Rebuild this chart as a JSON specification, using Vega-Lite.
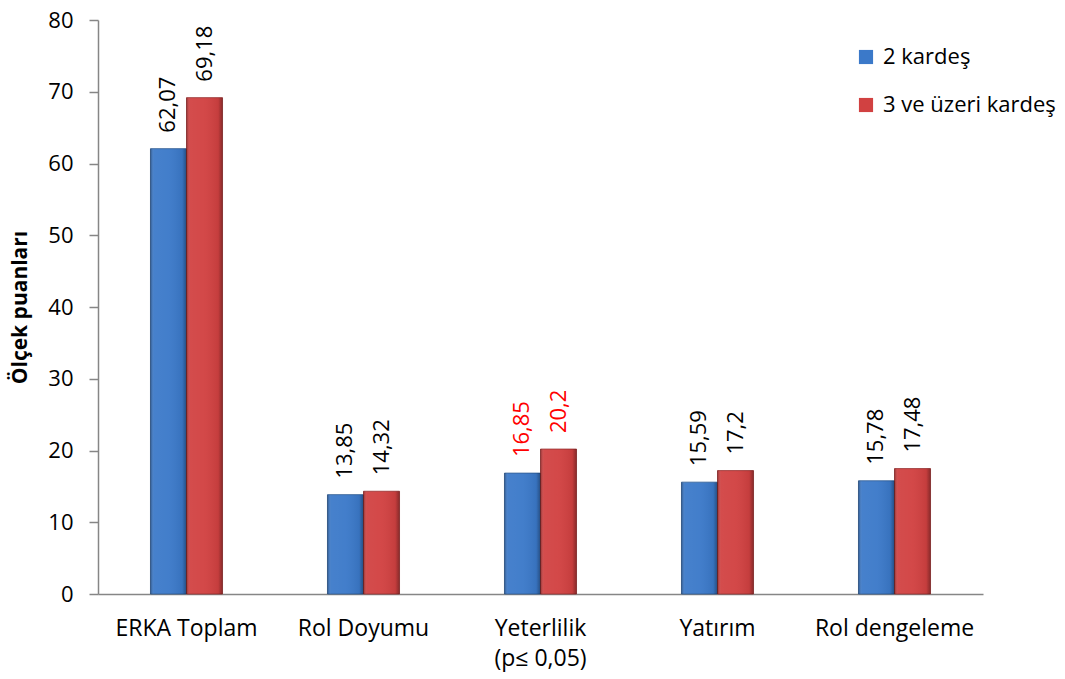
{
  "$schema": "https://vega.github.io/schema/vega-lite/v6.json",
  "width": 885,
  "height": 574,
  "autosize": {"type": "none"},
  "padding": {"left": 98, "top": 20, "right": 82, "bottom": 85},
  "config": {
    "view": {"stroke": null},
    "font": "Open Sans",
    "locale": {"number": {"decimal": ",", "thousands": ".", "grouping": [3], "currency": ["", " TL"]}}
  },
  "data": {
    "values": [
      {"olcek": "ERKA Toplam", "grup": "2 kardeş", "puan": 62.07},
      {"olcek": "ERKA Toplam", "grup": "3 ve üzeri kardeş", "puan": 69.18},
      {"olcek": "Rol Doyumu", "grup": "2 kardeş", "puan": 13.85},
      {"olcek": "Rol Doyumu", "grup": "3 ve üzeri kardeş", "puan": 14.32},
      {"olcek": "Yeterlilik (p≤ 0,05)", "grup": "2 kardeş", "puan": 16.85},
      {"olcek": "Yeterlilik (p≤ 0,05)", "grup": "3 ve üzeri kardeş", "puan": 20.2},
      {"olcek": "Yatırım", "grup": "2 kardeş", "puan": 15.59},
      {"olcek": "Yatırım", "grup": "3 ve üzeri kardeş", "puan": 17.2},
      {"olcek": "Rol dengeleme", "grup": "2 kardeş", "puan": 15.78},
      {"olcek": "Rol dengeleme", "grup": "3 ve üzeri kardeş", "puan": 17.48}
    ]
  },
  "encoding": {
    "x": {
      "field": "olcek",
      "type": "nominal",
      "sort": ["ERKA Toplam", "Rol Doyumu", "Yeterlilik (p≤ 0,05)", "Yatırım", "Rol dengeleme"],
      "scale": {"paddingInner": 0.593, "paddingOuter": 0.2965},
      "axis": {
        "title": null,
        "labelAngle": 0,
        "labelFontSize": 23,
        "labelColor": "#000000",
        "labelPadding": 23,
        "labelLineHeight": 30,
        "labelBaseline": "top",
        "labelExpr": "datum.value == 'Yeterlilik (p≤ 0,05)' ? ['Yeterlilik', '(p≤ 0,05)'] : datum.label",
        "ticks": false,
        "domainColor": "#868686",
        "domainWidth": 1.5
      }
    },
    "xOffset": {
      "field": "grup",
      "type": "nominal",
      "sort": ["2 kardeş", "3 ve üzeri kardeş"],
      "scale": {"paddingInner": 0, "paddingOuter": 0}
    },
    "y": {
      "field": "puan",
      "type": "quantitative",
      "scale": {"domain": [0, 80]},
      "axis": {
        "title": "Ölçek puanları",
        "titleFontSize": 21,
        "titleFontWeight": "bold",
        "titleColor": "#000000",
        "titlePadding": 17,
        "values": [0, 10, 20, 30, 40, 50, 60, 70, 80],
        "grid": false,
        "labelFontSize": 22,
        "labelColor": "#000000",
        "labelPadding": 16,
        "tickSize": 9,
        "tickColor": "#868686",
        "tickWidth": 1.5,
        "domainColor": "#868686",
        "domainWidth": 1.5
      }
    }
  },
  "layer": [
    {
      "mark": {"type": "bar", "strokeWidth": 1, "strokeOpacity": 0.8},
      "encoding": {
        "color": {
          "field": "grup",
          "type": "nominal",
          "scale": {"domain": ["2 kardeş", "3 ve üzeri kardeş"], "range": ["#3b79c9", "#d14141"]},
          "legend": {
            "title": null,
            "orient": "none",
            "legendX": 757,
            "legendY": 26,
            "symbolType": "square",
            "symbolSize": 200,
            "symbolStrokeWidth": 0,
            "labelFontSize": 22,
            "labelColor": "#000000",
            "labelOffset": 6,
            "labelLimit": 400,
            "rowPadding": 26
          }
        },
        "stroke": {
          "field": "grup",
          "type": "nominal",
          "scale": {"domain": ["2 kardeş", "3 ve üzeri kardeş"], "range": ["#2a5790", "#952c2c"]},
          "legend": null
        }
      }
    },
    {
      "mark": {
        "type": "bar",
        "color": {
          "gradient": "linear",
          "x1": 0, "x2": 1, "y1": 0, "y2": 0,
          "stops": [
            {"offset": 0, "color": "rgba(0,0,0,0.30)"},
            {"offset": 0.1, "color": "rgba(255,255,255,0.06)"},
            {"offset": 0.5, "color": "rgba(255,255,255,0.04)"},
            {"offset": 0.88, "color": "rgba(0,0,0,0.06)"},
            {"offset": 1, "color": "rgba(0,0,0,0.35)"}
          ]
        }
      },
      "encoding": {}
    },
    {
      "mark": {"type": "text", "angle": 270, "align": "left", "baseline": "middle", "dx": 16, "fontSize": 22},
      "encoding": {
        "text": {"field": "puan", "type": "quantitative", "format": "~g"},
        "color": {
          "condition": {"test": "datum.olcek == 'Yeterlilik (p≤ 0,05)'", "value": "#ff0000"},
          "value": "#000000"
        }
      }
    }
  ]
}
